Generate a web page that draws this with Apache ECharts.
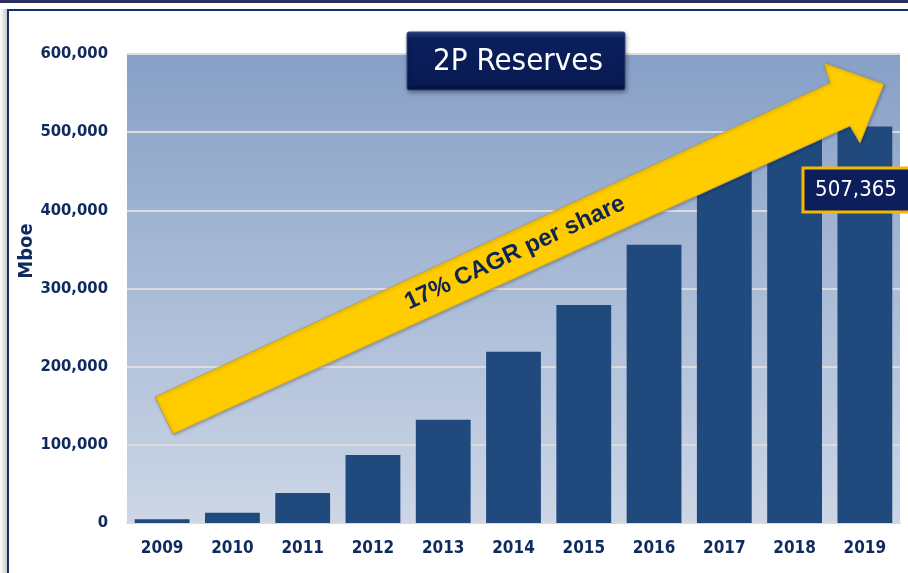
<!DOCTYPE html>
<html>
<head>
<meta charset="utf-8">
<script src="https://cdn.jsdelivr.net/npm/echarts@6/dist/echarts.min.js"></script>
<style>
  html, body { margin: 0; padding: 0; background: #fff; }
  #main { width: 908px; height: 573px; }
</style>
</head>
<body>
<div id="main"></div>
<script>
// 2P reserves by year (Mboe)
const years = ['2009', '2010', '2011', '2012', '2013', '2014', '2015', '2016', '2017', '2018', '2019'];
const reserves = [4700, 13200, 38400, 87000, 132000, 219000, 279000, 356000, 455000, 495000, 507365];
const yTicks = [0, 100000, 200000, 300000, 400000, 500000, 600000];
const yName = 'Mboe';
const lastLabel = '507,365';
const arrowText = '17% CAGR per share';
const titleText = '2P Reserves';

const navy = '#0f2a5e';
const font = "'DejaVu Sans Condensed', 'Liberation Sans Narrow', 'Arial Narrow', 'Liberation Sans', sans-serif";

const chart = echarts.init(document.getElementById('main'));

chart.setOption({
  animation: false,
  grid: {
    left: 127, right: 8, top: 54, bottom: 50,
    show: true, borderWidth: 0,
    backgroundColor: new echarts.graphic.LinearGradient(0, 0, 0, 1, [
      { offset: 0, color: '#87a0c7' },
      { offset: 1, color: '#ccd6e6' }
    ])
  },
  xAxis: {
    type: 'category',
    data: years,
    axisLine: { show: true, lineStyle: { color: '#d9d9d9', width: 2 } },
    axisTick: { show: false },
    axisLabel: { color: navy, fontFamily: font, fontSize: 17, fontWeight: 'bold', margin: 17 }
  },
  yAxis: {
    type: 'value',
    min: yTicks[0], max: yTicks[yTicks.length - 1], interval: 100000,
    axisLine: { show: false },
    axisTick: { show: false },
    splitLine: { lineStyle: { color: '#dcdcdc', width: 2 } },
    axisLabel: {
      color: navy, fontFamily: font, fontSize: 16.5, fontWeight: 'bold', margin: 19,
      formatter: v => v.toLocaleString('en-US')
    }
  },
  series: [{
    type: 'bar',
    data: reserves,
    barWidth: '78%',
    itemStyle: { color: '#204a7d' },
    z: 2
  }],
  graphic: [
    // outer frame
    { type: 'rect', shape: { x: 0, y: 0, width: 908, height: 3 }, style: { fill: '#2c2f5f' }, silent: true },
    { type: 'rect', shape: { x: 0, y: 9, width: 7, height: 564 },
      style: { fill: new echarts.graphic.LinearGradient(0, 0, 1, 0, [
        { offset: 0, color: '#ffffff' }, { offset: 1, color: '#c8c8c8' }]) }, silent: true },
    { type: 'polyline', shape: { points: [[8, 573], [8, 10], [908, 10]] },
      style: { stroke: '#12306a', lineWidth: 2, fill: null }, silent: true },
    // y axis title (sits above the plot's middle in the original)
    {
      type: 'text', x: 27, y: 251, rotation: Math.PI / 2,
      style: { text: yName, fill: navy, font: "bold 20px " + font, align: 'center', verticalAlign: 'middle' }
    },
    // arrow
    {
      type: 'polygon', z: 10,
      shape: { points: [[155, 397], [830, 83], [824, 63], [884, 84], [860, 143], [850, 126], [173, 434]] },
      style: { fill: '#ffcc00', stroke: '#b8a25a', lineWidth: 1, lineJoin: 'round',
        shadowBlur: 3, shadowColor: 'rgba(0,0,0,0.25)', shadowOffsetX: 1, shadowOffsetY: 1 }
    },
    {
      type: 'text', z: 11, x: 515, y: 253, rotation: 25 * Math.PI / 180,
      style: { text: arrowText, fill: '#0d2456', font: "bold 24px 'Liberation Sans', Arial, sans-serif",
        align: 'center', verticalAlign: 'middle' }
    },
    // title box
    {
      type: 'rect', z: 12, shape: { x: 407, y: 32, width: 218, height: 58, r: 2 },
      style: {
        fill: new echarts.graphic.LinearGradient(0, 0, 0, 1, [
          { offset: 0, color: '#2a427e' }, { offset: 0.12, color: '#0a1f5e' },
          { offset: 0.88, color: '#081a52' }, { offset: 1, color: '#04103a' }]),
        stroke: '#34497f', lineWidth: 1,
        shadowBlur: 4, shadowColor: 'rgba(0,0,0,0.35)', shadowOffsetX: 1, shadowOffsetY: 2
      }
    },
    {
      type: 'text', z: 13, x: 518, y: 62,
      style: { text: titleText, fill: '#ffffff', font: "31px " + font, align: 'center', verticalAlign: 'middle' }
    },
    // value callout
    {
      type: 'rect', z: 12, shape: { x: 803, y: 168, width: 110, height: 44 },
      style: { fill: '#0c1f5c', stroke: '#f5b800', lineWidth: 3 }
    },
    {
      type: 'text', z: 13, x: 856, y: 190,
      style: { text: lastLabel, fill: '#ffffff', font: "22px " + font, align: 'center', verticalAlign: 'middle' }
    }
  ]
});
</script>
</body>
</html>
